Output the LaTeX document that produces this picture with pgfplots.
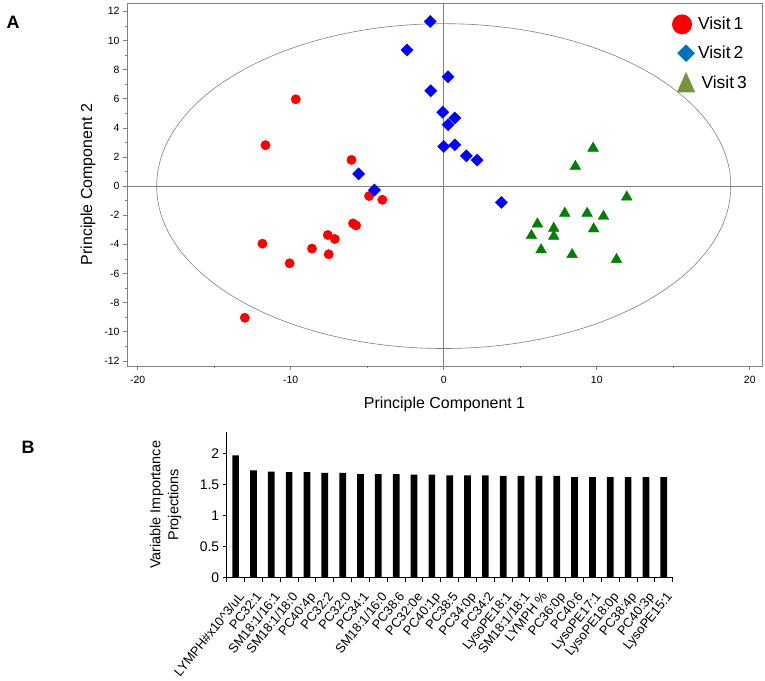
\documentclass[border=0pt]{standalone}
\usepackage{fontspec}
\setmainfont{Liberation Sans}
\usepackage{pgfplots}
\pgfplotsset{compat=1.18}
\definecolor{legblue}{RGB}{0,112,192}
\definecolor{leggreen}{RGB}{119,147,60}
\definecolor{ptgreen}{RGB}{0,128,0}
\definecolor{framegray}{RGB}{128,128,128}
\begin{document}
\begin{tikzpicture}[x=1bp,y=1bp]
\useasboundingbox (0,0) rectangle (765,681);
\node[font=\bfseries\fontsize{18}{20}\selectfont] at (13,659) {A};
\node[font=\bfseries\fontsize{18}{20}\selectfont] at (28,234) {B};

\begin{axis}[
  at={(127bp,315bp)}, anchor=south west,
  width=635bp, height=362.7bp, scale only axis,
  xmin=-20.7, xmax=20.8, ymin=-12.35, ymax=12.55,
  xtick={-20,-10,...,20}, minor x tick num=1,
  ytick={-12,-10,...,12}, minor y tick num=1,
  tick align=outside, xtick pos=left, ytick pos=left,
  major tick length=4bp, minor tick length=2.5bp,
  axis line style={framegray, line width=0.6bp},
  every tick/.style={framegray, line width=0.6bp},
  ticklabel style={font=\fontsize{10.5}{12}\selectfont},
  xticklabel style={yshift=-2.5bp},
  /pgf/number format/assume math mode=true,
  xlabel={Principle Component 1}, ylabel={Principle Component 2},
  label style={font=\fontsize{16}{18}\selectfont},
  xlabel style={at={(axis description cs:0.5,-0.107)}, anchor=center},
  ylabel style={at={(axis description cs:-0.0614,0.5)}, anchor=center},
  legend cell align=left,
  legend style={draw=none, fill=none, at={(0.858,0.97)}, anchor=north west,
    font=\fontsize{17.5}{19}\selectfont, row sep=10bp, inner sep=0pt,
    nodes={inner sep=1bp}},
  clip=false,
]
\addlegendimage{legend image code/.code={\path[draw=none,fill=none] (0,-1bp) rectangle (25bp,1bp); \fill[red,draw=none] (10bp,0) circle (10bp);}}
\addlegendimage{legend image code/.code={\path[draw=none,fill=none] (0,-1bp) rectangle (25bp,1bp); \fill[legblue,draw=none] (5.2bp,0) -- (14bp,8.8bp) -- (22.8bp,0) -- (14bp,-8.8bp) -- cycle;}}
\addlegendimage{legend image code/.code={\path[draw=none,fill=none] (0,-1bp) rectangle (25bp,1bp); \fill[leggreen,draw=none] (4.8bp,-9.5bp) -- (23.2bp,-9.5bp) -- (14bp,11bp) -- cycle;}}
\legend{Visit\,1, Visit\,2, \hspace{3.5bp}Visit\,3}

\draw[framegray, line width=0.6bp] (axis cs:-20.7,0) -- (axis cs:20.8,0);
\draw[framegray, line width=0.6bp] (axis cs:0,-12.35) -- (axis cs:0,12.55);
\draw[framegray, line width=0.6bp] (axis cs:0,0) ellipse [x radius=18.76, y radius=11.15];

\addplot[forget plot, only marks, mark=*, mark size=4.7bp, mark options={fill=red, draw=red}] coordinates {
(-9.67,5.96) (-11.65,2.81) (-6.03,1.80) (-4.88,-0.68) (-4.01,-0.94)
(-11.85,-3.95) (-10.07,-5.30) (-8.61,-4.29) (-7.58,-3.36) (-7.12,-3.63)
(-7.52,-4.68) (-5.93,-2.56) (-5.73,-2.70) (-13.0,-9.04)
};
\addplot[forget plot, only marks, mark=square*, mark size=4.3bp, mark options={rotate=45, fill=blue, draw=blue}] coordinates {
(-0.88,11.3) (-2.40,9.34) (0.28,7.51) (-0.85,6.55) (-0.07,5.07)
(0.72,4.68) (0.28,4.22) (0.0,2.72) (0.72,2.83) (1.48,2.08)
(2.18,1.78) (3.77,-1.12) (-5.56,0.84) (-4.53,-0.27)
};
\addplot[forget plot, only marks, mark=triangle*, mark size=6.2bp, mark options={fill=ptgreen, draw=ptgreen}] coordinates {
(9.76,2.6) (8.6,1.35) (11.96,-0.75) (7.91,-1.87) (9.37,-1.87)
(10.44,-2.08) (6.12,-2.6) (7.19,-2.9) (9.8,-2.94) (5.73,-3.4)
(7.19,-3.45) (6.36,-4.38) (8.39,-4.7) (11.29,-5.04)
};
\end{axis}

\begin{axis}[
  at={(226.7bp,103bp)}, anchor=south west,
  width=446bp, height=146.3bp, scale only axis,
  xmin=-0.5, xmax=24.5, ymin=0, ymax=2.35,
  axis x line=bottom, axis y line=left,
  axis line style={black, line width=1bp, -},
  every tick/.style={black, line width=1bp},
  ytick={0,0.5,...,2},
  xtick={0,...,24},
  xticklabels={{LYMPH\#x10\textasciicircum{}3/uL},PC32:1,SM18:1/16:1,SM18:1/18:0,PC40:4p,PC32:2,PC32:0,PC34:1,SM18:1/16:0,PC38:6,PC32:0e,PC40:1p,PC38:5,PC34:0p,PC34:2,LysoPE18:1,SM18:1/18:1,LYMPH \%,PC36:0p,PC40:6,LysoPE17:1,LysoPE18:0p,PC38:4p,PC40:3p,LysoPE15:1},
  major x tick style={draw=none},
  minor xtick={-0.5,0.5,...,24.5},
  tick align=outside,
  major tick length=4bp, minor tick length=4bp,
  yticklabel style={font=\fontsize{14}{16}\selectfont},
  xticklabel style={font=\fontsize{13}{15}\selectfont, xshift=2bp, yshift=-9bp, rotate=51, anchor=north east, inner sep=0pt},
  /pgf/number format/assume math mode=true,
  ylabel={Variable Importance\\Projections},
  ylabel style={align=center, font=\fontsize{14.5}{18}\selectfont, at={(axis description cs:-0.137,0.5)}, anchor=center},
]
\addplot[ybar, bar width=6.7bp, fill=black, draw=none] coordinates {
(0,1.97) (1,1.73) (2,1.71) (3,1.70) (4,1.70) (5,1.69) (6,1.69) (7,1.67) (8,1.67) (9,1.67)
(10,1.66) (11,1.66) (12,1.65) (13,1.65) (14,1.65) (15,1.64) (16,1.64) (17,1.64) (18,1.64)
(19,1.62) (20,1.62) (21,1.62) (22,1.62) (23,1.62) (24,1.62)
};
\end{axis}
\end{tikzpicture}
\end{document}
